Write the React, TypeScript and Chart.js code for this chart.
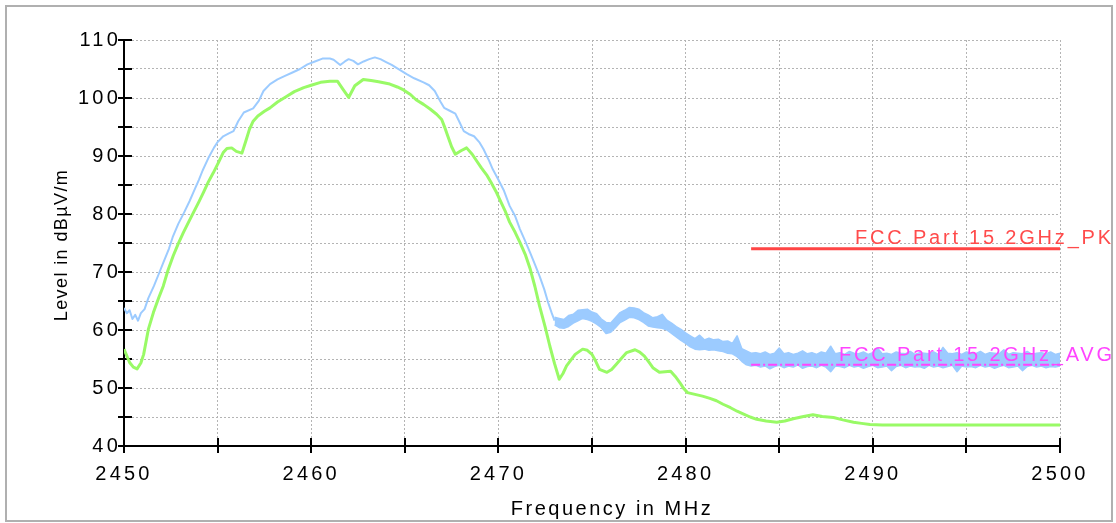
import React, { useEffect, useRef } from 'react';
import { Chart, registerables } from 'chart.js';

Chart.register(...registerables);

// ---------- data ----------
const X_MIN = 2450;
const X_MAX = 2500;
const Y_MIN = 40;
const Y_MAX = 110;
const X_LABELS = [2450, 2460, 2470, 2480, 2490, 2500];
const Y_LABELS = [40, 50, 60, 70, 80, 90, 100, 110];

// Peak trace (light blue), clean part of the sweep
const PEAK_FREQ = [
  2450.0, 2450.15, 2450.3, 2450.45, 2450.6, 2450.75, 2450.9, 2451.1, 2451.3, 2451.6,
  2451.9, 2452.1, 2452.4, 2452.6, 2452.9, 2453.2, 2453.5, 2453.7, 2454.0, 2454.2,
  2454.5, 2454.8, 2455.0, 2455.3, 2455.6, 2455.85, 2456.1, 2456.4, 2456.9, 2457.2,
  2457.45, 2457.8, 2458.2, 2458.6, 2459.0, 2459.4, 2459.8, 2460.2, 2460.6, 2461.0,
  2461.2, 2461.55, 2461.8, 2462.0, 2462.25, 2462.5, 2462.8, 2463.1, 2463.4, 2463.7,
  2464.0, 2464.3, 2464.6, 2465.1, 2465.5, 2466.0, 2466.3, 2466.6, 2466.9, 2467.1,
  2467.4, 2467.7, 2467.9, 2468.15, 2468.4, 2468.7, 2469.0, 2469.2, 2469.5, 2469.7,
  2470.0, 2470.3, 2470.6, 2470.9, 2471.15, 2471.45, 2471.7, 2471.95, 2472.2, 2472.45,
  2472.66, 2472.85, 2473.0,
];
const PEAK_LEVEL = [
  63.8, 62.9, 63.4, 61.9, 62.6, 61.6, 62.9, 63.6, 65.5, 67.6,
  70.0, 71.6, 74.0, 76.0, 78.3, 80.2, 82.2, 83.7, 85.9, 87.5,
  89.6, 91.4, 92.4, 93.4, 93.9, 94.3, 96.0, 97.5, 98.2, 99.5,
  101.2, 102.4, 103.2, 103.8, 104.4, 105.0, 105.8, 106.3, 106.8, 106.8,
  106.6, 105.7, 106.3, 106.7, 106.4, 105.8, 106.3, 106.7, 107.0, 106.7,
  106.2, 105.7, 105.1, 104.1, 103.4, 102.7, 102.2, 101.2, 99.4, 98.3,
  97.8, 97.3, 96.0, 94.3, 93.8, 93.4, 92.3, 91.2, 89.2, 87.7,
  85.9, 84.0, 81.4, 79.6, 77.4, 75.2, 73.3, 71.3, 69.3, 67.0,
  64.7, 62.9, 61.6,
];

// Peak trace, noisy part: upper and lower edge of the noise band
const NOISE_FREQ = [
  2473.0, 2473.25, 2473.5, 2473.75, 2474.0, 2474.25, 2474.5, 2474.75, 2475.0, 2475.25,
  2475.5, 2475.75, 2476.0, 2476.25, 2476.5, 2476.75, 2477.0, 2477.25, 2477.5, 2477.75,
  2478.0, 2478.25, 2478.5, 2478.75, 2479.0, 2479.25, 2479.5, 2479.75, 2480.0, 2480.25,
  2480.5, 2480.75, 2481.0, 2481.25, 2481.5, 2481.75, 2482.0, 2482.25, 2482.5, 2482.75,
  2483.0, 2483.25, 2483.5,
  2483.75, 2484.0, 2484.25, 2484.5, 2484.75, 2485.0, 2485.25, 2485.5, 2485.75, 2486.0,
  2486.25, 2486.5, 2486.75, 2487.0, 2487.25, 2487.5, 2487.75, 2488.0, 2488.25, 2488.5,
  2488.75, 2489.0, 2489.25, 2489.5, 2489.75, 2490.0, 2490.25, 2490.5, 2490.75, 2491.0,
  2491.25, 2491.5, 2491.75, 2492.0, 2492.25, 2492.5, 2492.75, 2493.0, 2493.25, 2493.5,
  2493.75, 2494.0, 2494.25, 2494.5, 2494.75, 2495.0, 2495.25, 2495.5, 2495.75, 2496.0,
  2496.25, 2496.5, 2496.75, 2497.0, 2497.25, 2497.5, 2497.75, 2498.0, 2498.25, 2498.5,
  2498.75, 2499.0, 2499.25, 2499.5, 2499.75, 2500.0,
];
const NOISE_HI = [
  62.2, 62.0, 61.8, 62.5, 62.7, 63.4, 63.5, 63.6, 63.1, 62.8,
  61.9, 61.3, 61.2, 62.1, 63.0, 63.4, 63.9, 63.8, 63.6, 63.0,
  62.6, 62.1, 62.3, 62.7, 61.7, 61.2, 60.6, 60.1, 59.5, 59.0,
  58.5, 59.1, 58.3, 58.6, 58.3, 58.4, 58.0, 58.1, 57.7, 59.0,
  56.8, 56.4, 56.0,
  56.1, 55.9, 56.2, 55.8, 56.0, 56.9, 55.9, 56.1, 55.8, 56.0,
  56.4, 55.9, 56.1, 55.8, 56.2, 56.0, 57.2, 55.9, 56.1, 55.8,
  56.3, 56.0, 55.9, 56.2, 55.8, 56.1, 56.9, 55.9, 56.0, 55.8,
  56.2, 56.0, 55.9, 56.3, 55.8, 56.1, 56.0, 55.9, 56.2, 55.8,
  57.0, 56.0, 55.9, 56.1, 55.8, 56.2, 56.0, 55.9, 56.3, 55.8,
  56.1, 56.0, 55.9, 56.6, 55.8, 56.1, 56.0, 55.9, 56.3, 55.8,
  56.0, 56.1, 55.9, 56.2, 55.8, 56.0,
];
const NOISE_LO = [
  60.9, 60.4, 60.3, 60.6, 61.2, 61.6, 62.0, 61.8, 61.5, 61.0,
  60.4, 59.4, 59.6, 60.4, 61.3, 61.7, 62.2, 62.1, 61.8, 61.3,
  60.7, 60.5, 60.4, 60.3, 60.0, 59.4, 58.8, 58.2, 57.7, 57.1,
  56.7, 56.6, 56.7, 56.5, 56.6, 56.4, 56.3, 56.0, 55.9, 55.4,
  54.6, 54.0, 53.8,
  53.9, 53.6, 53.8, 53.3, 53.7, 53.9, 53.5, 53.8, 53.6, 54.0,
  53.4, 53.7, 53.8, 53.5, 53.9, 53.6, 52.8, 53.8, 53.7, 53.5,
  53.9, 53.6, 53.8, 53.4, 53.7, 53.9, 53.5, 53.6, 53.8, 53.0,
  53.7, 53.9, 53.5, 53.8, 53.6, 53.7, 53.4, 53.9, 53.6, 53.8,
  53.5, 53.7, 53.9, 52.8, 53.8, 53.6, 53.7, 53.5, 53.9, 53.6,
  53.8, 53.4, 53.7, 53.9, 53.5, 53.6, 53.8, 53.0, 53.7, 53.9,
  53.6, 53.8, 53.5, 53.7, 53.6, 53.8,
];

// Average trace (green)
const AVG_FREQ = [
  2450.0, 2450.3, 2450.5, 2450.7, 2450.9, 2451.05, 2451.3, 2451.57, 2451.85, 2452.1,
  2452.35, 2452.63, 2452.9, 2453.17, 2453.45, 2453.7, 2454.0, 2454.24, 2454.5, 2454.77,
  2455.05, 2455.3, 2455.5, 2455.75, 2456.0, 2456.3, 2456.5, 2456.7, 2456.9, 2457.15,
  2457.5, 2457.8, 2458.2, 2458.7, 2459.1, 2459.6, 2460.0, 2460.5, 2461.0, 2461.4,
  2461.7, 2462.0, 2462.33, 2462.78, 2463.2, 2463.6, 2464.2, 2464.6, 2464.93, 2465.3,
  2465.6, 2466.0, 2466.35, 2466.7, 2466.97, 2467.15, 2467.3, 2467.5, 2467.7, 2468.0,
  2468.3, 2468.6, 2468.85, 2469.1, 2469.4, 2469.65, 2469.9, 2470.1, 2470.35, 2470.6,
  2470.9, 2471.15, 2471.45, 2471.7, 2471.95, 2472.2, 2472.5, 2472.75, 2473.0, 2473.25,
  2473.45, 2473.64, 2474.1, 2474.5, 2474.75, 2475.0, 2475.2, 2475.4, 2475.8, 2476.05,
  2476.3, 2476.6, 2476.85, 2477.3, 2477.55, 2477.8, 2478.05, 2478.25, 2478.6, 2478.9,
  2479.2, 2479.45, 2479.7, 2479.9, 2480.1, 2480.5, 2480.9, 2481.3, 2481.65, 2482.0,
  2482.4, 2482.75, 2483.1, 2483.45, 2483.8, 2484.3, 2484.87, 2485.3, 2485.75, 2486.3,
  2486.8, 2487.3, 2487.9, 2488.4, 2488.97, 2489.4, 2489.85, 2490.5, 2492.0, 2494.0,
  2496.0, 2498.0, 2500.0,
];
const AVG_LEVEL = [
  56.7, 54.4, 53.6, 53.3, 54.3, 55.8, 60.1, 63.0, 65.5, 67.6,
  70.3, 72.8, 74.9, 76.8, 78.6, 80.2, 82.1, 83.7, 85.5, 87.1,
  88.9, 90.6, 91.3, 91.4, 90.8, 90.5, 92.5, 94.6, 96.0, 96.9,
  97.7, 98.3, 99.3, 100.3, 101.1, 101.8, 102.2, 102.7, 102.9, 102.9,
  101.5, 100.1, 102.1, 103.2, 103.0, 102.8, 102.4, 101.9, 101.4, 100.6,
  99.7, 98.9, 98.1, 97.2, 96.3, 94.8, 93.4, 91.6, 90.3, 90.9,
  91.4, 90.3, 89.1, 87.9, 86.6, 85.2, 83.7, 82.3, 80.6, 78.6,
  76.8, 75.1, 72.9, 70.5, 67.5, 64.1, 60.5, 57.2, 54.2, 51.5,
  52.5, 53.8, 55.8, 56.7, 56.5, 55.8, 54.6, 53.2, 52.7, 53.2,
  54.1, 55.2, 56.1, 56.6, 56.2, 55.5, 54.4, 53.5, 52.7, 52.8,
  52.9, 52.0, 50.9, 49.9, 49.2, 48.9, 48.6, 48.2, 47.8, 47.2,
  46.6, 46.0, 45.5, 45.0, 44.6, 44.3, 44.1, 44.3, 44.7, 45.1,
  45.4, 45.1, 44.9, 44.5, 44.1, 43.9, 43.7, 43.6, 43.6, 43.6,
  43.6, 43.6, 43.6,
];

// Limit lines
const LIMIT_FREQ = [2483.5, 2500];
const PK_LIMIT = [74, 74];
const AVG_LIMIT = [54, 54];
const PK_LABEL = 'FCC Part 15 2GHz_PK';
const AVG_LABEL = 'FCC Part 15 2GHz_AVG';
const X_TITLE = 'Frequency in MHz';
const Y_TITLE = 'Level in dBµV/m';

const FONT = '"Liberation Sans", Arial, Helvetica, sans-serif';
const BLUE = '#9ccbff';

const pts = (xs: number[], ys: number[]) => xs.map((x, i) => ({ x, y: ys[i] }));

export default function App() {
  const ref = useRef<HTMLCanvasElement>(null);

  useEffect(() => {
    const canvas = ref.current;
    if (!canvas) return;

    const decor = {
      id: 'decor',
      beforeDraw(chart: any) {
        (chart.ctx as any).letterSpacing = '3.2px';
      },
      beforeDatasetsDraw(chart: any) {
        const { ctx, chartArea: a, scales } = chart;
        const xs = scales.x;
        const ys = scales.y;
        ctx.save();
        ctx.strokeStyle = '#000';
        ctx.lineWidth = 2;
        ctx.setLineDash([]);
        ctx.beginPath();
        ctx.moveTo(a.left, a.top);
        ctx.lineTo(a.left, a.bottom);
        ctx.moveTo(a.left, a.bottom);
        ctx.lineTo(a.right, a.bottom);
        for (let v = X_MIN; v <= X_MAX; v += 5) {
          const px = Math.round(xs.getPixelForValue(v));
          ctx.moveTo(px, a.bottom - 8);
          ctx.lineTo(px, a.bottom + 7);
        }
        for (let v = Y_MIN; v <= Y_MAX; v += 5) {
          const py = Math.round(ys.getPixelForValue(v));
          ctx.moveTo(a.left - 6, py);
          ctx.lineTo(a.left + 8, py);
        }
        ctx.stroke();
        ctx.restore();
      },
      afterDraw(chart: any) {
        const { ctx, chartArea: a, scales } = chart;
        const xs = scales.x;
        const ys = scales.y;
        ctx.save();
        // limit labels
        ctx.font = `20px ${FONT}`;
        (ctx as any).letterSpacing = '2.8px';
        ctx.textAlign = 'left';
        ctx.textBaseline = 'alphabetic';
        ctx.fillStyle = '#ff4b4b';
        ctx.fillText(PK_LABEL, xs.getPixelForValue(2489.05), ys.getPixelForValue(PK_LIMIT[0]) - 5);
        ctx.fillStyle = '#ff44ff';
        ctx.fillText(AVG_LABEL, xs.getPixelForValue(2488.2), ys.getPixelForValue(AVG_LIMIT[0]) - 4);
        // x title
        ctx.fillStyle = '#000';
        ctx.font = `20px ${FONT}`;
        (ctx as any).letterSpacing = '2.5px';
        ctx.textAlign = 'center';
        ctx.fillText(X_TITLE, (a.left + a.right) / 2 + 20, 515);
        // y title
        ctx.font = `18px ${FONT}`;
        (ctx as any).letterSpacing = '1.4px';
        ctx.translate(67, 245);
        ctx.rotate(-Math.PI / 2);
        ctx.fillText(Y_TITLE, 0, 0);
        ctx.restore();
        // outer frame
        ctx.save();
        ctx.strokeStyle = '#b0b0b0';
        ctx.lineWidth = 2;
        ctx.setLineDash([]);
        ctx.strokeRect(6, 6, 1106, 515);
        ctx.restore();
      },
    };

    const tickCb = (v: any) => (X_LABELS.includes(Number(v)) || Y_LABELS.includes(Number(v)) ? String(v) : '');

    const chart = new Chart(canvas, {
      type: 'line',
      data: {
        datasets: [
          {
            label: PK_LABEL,
            data: pts(LIMIT_FREQ, PK_LIMIT),
            borderColor: '#ff4545',
            borderWidth: 3,
            pointRadius: 0,
            tension: 0,
            fill: false,
          },
          {
            label: AVG_LABEL,
            data: pts(LIMIT_FREQ, AVG_LIMIT),
            borderColor: '#ff44ff',
            borderWidth: 2,
            borderDash: [9, 3, 2, 3],
            pointRadius: 0,
            tension: 0,
            fill: false,
          },
          {
            label: 'Average',
            data: pts(AVG_FREQ, AVG_LEVEL),
            borderColor: '#99fa66',
            borderWidth: 3,
            pointRadius: 0,
            tension: 0,
            fill: false,
          },
          {
            label: 'Peak',
            data: pts(PEAK_FREQ, PEAK_LEVEL),
            borderColor: BLUE,
            borderWidth: 2,
            pointRadius: 0,
            tension: 0,
            fill: false,
          },
          {
            label: 'Peak noise high',
            data: pts(NOISE_FREQ, NOISE_HI),
            borderColor: BLUE,
            borderWidth: 1.5,
            pointRadius: 0,
            tension: 0,
            fill: false,
          },
          {
            label: 'Peak noise low',
            data: pts(NOISE_FREQ, NOISE_LO),
            borderColor: BLUE,
            backgroundColor: BLUE,
            borderWidth: 1.5,
            pointRadius: 0,
            tension: 0,
            fill: '-1',
          },
        ],
      },
      options: {
        animation: false,
        responsive: false,
        maintainAspectRatio: false,
        devicePixelRatio: 1,
        layout: { padding: { top: 40, right: 56, left: 0, bottom: 0 } },
        plugins: { legend: { display: false }, tooltip: { enabled: false } },
        elements: { line: { borderJoinStyle: 'round' } },
        scales: {
          x: {
            type: 'linear',
            min: X_MIN,
            max: X_MAX,
            position: 'bottom',
            afterFit: (s: any) => { s.height = 77; },
            ticks: {
              stepSize: 5,
              autoSkip: false,
              maxRotation: 0,
              padding: 16,
              color: '#000',
              font: { size: 20, family: FONT },
              callback: tickCb,
            },
            grid: { color: '#b4b4b4', lineWidth: 1, drawTicks: false },
            border: { display: false, dash: [2, 2] },
          },
          y: {
            type: 'linear',
            min: Y_MIN,
            max: Y_MAX,
            afterFit: (s: any) => { s.width = 124; },
            ticks: {
              stepSize: 5,
              autoSkip: false,
              padding: 3,
              color: '#000',
              font: { size: 20, family: FONT },
              callback: tickCb,
            },
            grid: { color: '#b4b4b4', lineWidth: 1, drawTicks: false },
            border: { display: false, dash: [2, 2] },
          },
        },
      },
      plugins: [decor],
    } as any);

    return () => chart.destroy();
  }, []);

  return (
    <div style={{ position: 'fixed', left: 0, top: 0, width: 1116, height: 523, background: '#fff' }}>
      <canvas ref={ref} width={1116} height={523} style={{ display: 'block', width: 1116, height: 523 }} />
    </div>
  );
}
